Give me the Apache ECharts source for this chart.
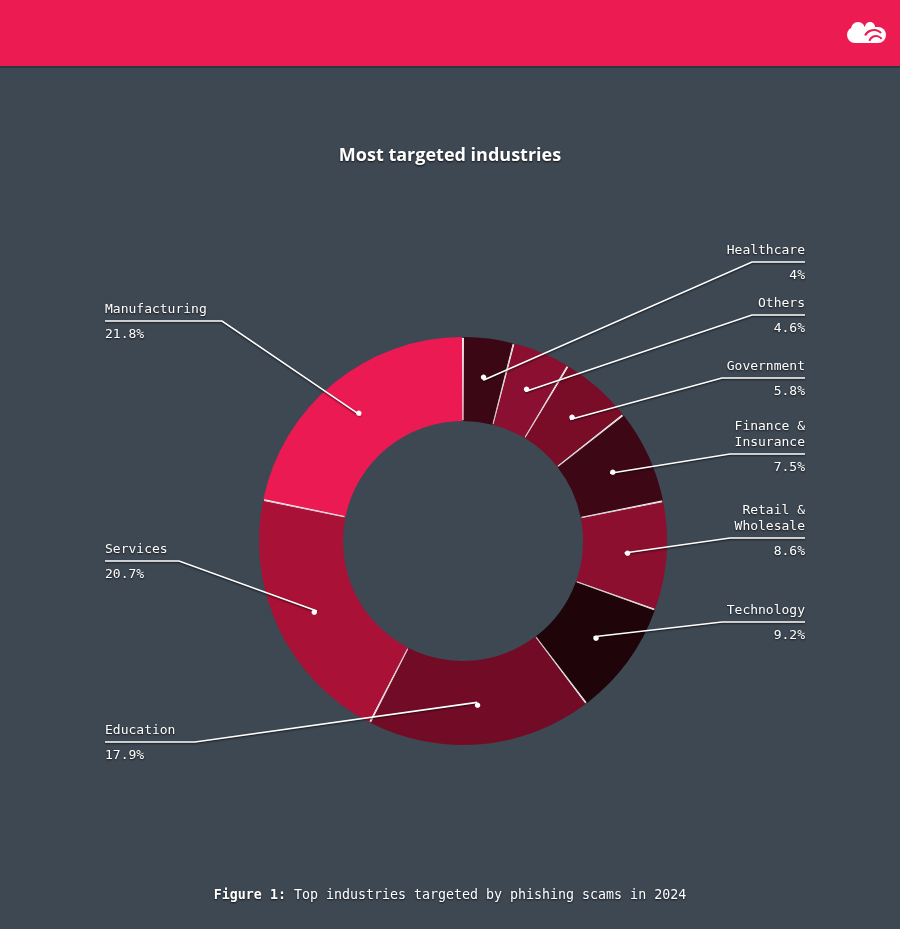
<!DOCTYPE html>
<html>
<head>
<meta charset="utf-8">
<title>Most targeted industries</title>
<script src="https://cdn.jsdelivr.net/npm/echarts@6/dist/echarts.min.js"></script>
<style>
  html, body { margin: 0; padding: 0; background: #3e4853; }
  #main { width: 900px; height: 929px; }
</style>
</head>
<body>
<div id="main"></div>
<script>
// industries, clockwise from 12 o'clock
const industries = ['Healthcare', 'Others', 'Government', 'Finance &\nInsurance', 'Retail &\nWholesale',
  'Technology', 'Education', 'Services', 'Manufacturing'];
const shares = [4, 4.6, 5.8, 7.5, 8.6, 9.2, 17.9, 20.7, 21.8];
const sliceColors = ['#3b0714', '#8b0f30', '#790d28', '#3d0716', '#8c0f2f', '#1f0409', '#720c26', '#a91137', '#ec1a52'];

// where each label's underline sits (y) and where its leader bends (x)
const labelLineY = [262, 315, 378, 454, 538, 622, 742, 561, 321];
const elbowX = [752, 752, 722, 730, 730, 722, 195, 179, 222];

const CX = 463, CY = 541;
const R_IN = 120, R_OUT = 204;
const R_MID = (R_IN + R_OUT) / 2;
const LEFT_EDGE = 105, RIGHT_EDGE = 805;
const MONO = '"DejaVu Sans Mono", "Liberation Mono", monospace';
const PAD = 0.5;

const myChart = echarts.init(document.getElementById('main'));

function placeLabel(params) {
  const i = params.dataIndex;
  const right = elbowX[i] > CX;
  const nLines = industries[i].split('\n').length;
  const lineY = labelLineY[i];
  const edge = right ? RIGHT_EDGE : LEFT_EDGE;
  // start the leader in the middle of the ring, on the slice's own angle
  let start;
  if (params.labelLinePoints && params.labelLinePoints.length) {
    const p0 = params.labelLinePoints[0];
    const dx = p0[0] - CX, dy = p0[1] - CY;
    const d = Math.hypot(dx, dy) || 1;
    start = [CX + dx / d * R_MID, CY + dy / d * R_MID];
  } else {
    const lay = myChart.getModel().getSeriesByIndex(params.seriesIndex).getData().getItemLayout(i);
    const a = (lay.startAngle + lay.endAngle) / 2;
    start = [lay.cx + Math.cos(a) * R_MID, lay.cy + Math.sin(a) * R_MID];
  }
  return {
    x: edge,
    y: lineY - 3 - 16 * nLines,
    align: right ? 'right' : 'left',
    verticalAlign: 'top',
    labelLinePoints: [start, [elbowX[i], lineY], [edge, lineY]]
  };
}

const shadow = { textShadowColor: 'rgba(0,0,0,0.75)', textShadowBlur: 2, textShadowOffsetY: 1 };
const plain = industries.map((name, i) => ({ name: name, value: shares[i] }));
const ring = {
  type: 'pie',
  silent: true,
  center: [CX, CY],
  radius: [R_IN, R_OUT],
  startAngle: 90,
  padAngle: PAD,
  avoidLabelOverlap: false,
  minShowLabelAngle: 0,
  emphasis: { disabled: true }
};

myChart.setOption({
  backgroundColor: '#3e4853',
  animation: false,
  title: {
    text: 'Most targeted industries',
    left: 'center',
    top: 142,
    textStyle: Object.assign({ color: '#fff', fontSize: 18, fontWeight: 'bold', fontFamily: '"Open Sans", Lato, sans-serif' }, shadow)
  },
  graphic: [
    { type: 'rect', shape: { x: 0, y: 0, width: 900, height: 66 }, style: { fill: '#ec1b52' }, silent: true },
    { type: 'rect', shape: { x: 0, y: 66, width: 900, height: 2 }, style: { fill: '#2e363e' }, silent: true },
    {
      type: 'group', silent: true,
      children: [
        { type: 'rect', shape: { x: 847, y: 27, width: 39, height: 16, r: 8 }, style: { fill: '#fff' } },
        { type: 'circle', shape: { cx: 858, cy: 29, r: 7 }, style: { fill: '#fff' } },
        { type: 'circle', shape: { cx: 870, cy: 27, r: 5 }, style: { fill: '#fff' } },
        { type: 'arc', shape: { cx: 874, cy: 40, r: 10, startAngle: Math.PI * 1.15, endAngle: Math.PI * 1.75 }, style: { stroke: '#ec1b52', lineWidth: 2, fill: null } },
        { type: 'arc', shape: { cx: 876, cy: 43, r: 7, startAngle: Math.PI * 1.1, endAngle: Math.PI * 1.8 }, style: { stroke: '#ec1b52', lineWidth: 2, fill: null } }
      ]
    },
    {
      type: 'text',
      silent: true,
      x: 450,
      y: 896,
      style: Object.assign({
        text: '{b|Figure 1:} Top industries targeted by phishing scams in 2024',
        align: 'center',
        verticalAlign: 'middle',
        fill: '#fff',
        font: 'normal 13.3px ' + MONO,
        rich: {
          b: Object.assign({ fill: '#fff', fontSize: 13.3, fontWeight: 'bold', fontFamily: MONO }, shadow)
        }
      }, shadow)
    }
  ],
  series: [
    Object.assign({}, ring, {
      // white underlay that shows through the gaps between slices
      z: 1,
      padAngle: 0,
      radius: [R_IN + 1, R_OUT - 1],
      label: { show: false },
      labelLine: { show: false },
      itemStyle: { color: '#ffffff' },
      data: plain
    }),
    Object.assign({}, ring, {
      z: 2,
      label: { show: false },
      labelLine: { show: false },
      data: industries.map((name, i) => ({ name: name, value: shares[i], itemStyle: { color: sliceColors[i] } }))
    }),
    Object.assign({}, ring, {
      // transparent copy carrying the labels and leaders above the slices
      z: 3,
      itemStyle: { color: 'rgba(0,0,0,0)' },
      label: {
        show: true,
        position: 'outside',
        color: '#fff',
        fontFamily: MONO,
        fontSize: 13,
        formatter: p => p.name.split('\n').map(s => '{n|' + s + '}').join('\n') + '\n{g| }\n{v|' + p.value + '%}',
        rich: {
          n: Object.assign({ color: '#fff', fontFamily: MONO, fontSize: 13, lineHeight: 16 }, shadow),
          g: { fontSize: 8, lineHeight: 9 },
          v: Object.assign({ color: '#fff', fontFamily: MONO, fontSize: 13, lineHeight: 16 }, shadow)
        }
      },
      labelLine: {
        show: true,
        smooth: false,
        lineStyle: { color: '#fff', width: 1.6, shadowColor: 'rgba(0,0,0,0.7)', shadowBlur: 2, shadowOffsetY: 1 }
      },
      labelLayout: placeLabel,
      data: plain
    }),
    Object.assign({}, ring, {
      // dots at the start of each leader
      z: 4,
      itemStyle: { color: 'rgba(0,0,0,0)' },
      label: {
        show: true,
        position: 'inside',
        formatter: '●',
        color: '#fff',
        fontSize: 7,
        fontFamily: '"DejaVu Sans", sans-serif'
      },
      labelLine: { show: false },
      data: plain
    })
  ]
});
</script>
</body>
</html>
